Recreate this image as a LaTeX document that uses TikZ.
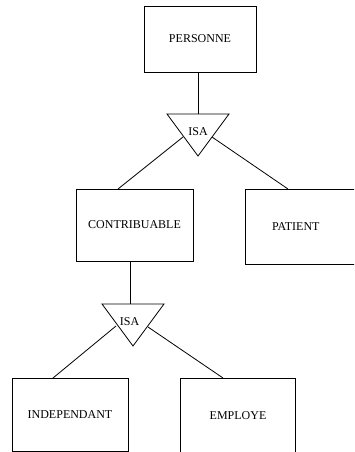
\documentclass[tikz,border=0pt]{standalone}
\usepackage{fontspec}
\setmainfont{Liberation Serif}
\usetikzlibrary{calc}
\begin{document}
\begin{tikzpicture}[x=1pt,y=-1pt,
  line width=0.8pt,
  entity/.style={draw, rectangle, inner sep=0pt, font=\fontsize{12}{14}\selectfont},
  isalabel/.style={inner sep=0pt, font=\fontsize{12}{14}\selectfont},
  link/.style={draw, line width=0.8pt}]
\useasboundingbox (0,0) rectangle (354,452);
\clip (0,0) rectangle (354,452);

% entities
\node[entity, minimum width=112pt, minimum height=66pt] (personne) at (200,39) {PERSONNE};
\node[entity, minimum width=117pt, minimum height=72pt] (contrib) at (134.5,225) {CONTRIBUABLE};
\node[entity, minimum width=115pt, minimum height=75pt, text width=115pt, align=left] (patient) at (302.5,226.5) {\hspace*{27pt}PATIENT};
\node[entity, minimum width=116pt, minimum height=73pt] (indep) at (70,414.5) {INDEPENDANT};
\node[entity, minimum width=115pt, minimum height=90pt] (employe) at (237.5,423) {};
\node[isalabel] (employetxt) at (238,416) {EMPLOYE};

% first ISA triangle
\coordinate (t1l) at (167,114);
\coordinate (t1r) at (229,114);
\coordinate (t1b) at (198,156);
\draw (t1l) -- (t1r) -- (t1b) -- cycle;
\node[isalabel] (isa1) at (198,131.5) {ISA};
\coordinate (t1top) at (198,114);
\coordinate (t1ls) at (183,137);
\coordinate (t1rs) at (212,137);

% second ISA triangle
\coordinate (t2l) at (102,304);
\coordinate (t2r) at (164,304);
\coordinate (t2b) at (133,346);
\draw (t2l) -- (t2r) -- (t2b) -- cycle;
\node[isalabel] (isa2) at (129.5,322) {ISA};
\coordinate (t2top) at (130,304);
\coordinate (t2ls) at (116,326);
\coordinate (t2rs) at (148,327);

% connector ends on the boxes
\coordinate (pbot) at (198,72);
\coordinate (ctop) at (118,189);
\coordinate (cbot) at (130,261);
\coordinate (ptop) at (288,189);
\coordinate (itop) at (53,378);
\coordinate (etop) at (223,378);

% connectors
\draw[link] (pbot) -- (t1top);
\draw[link] (t1ls) -- (ctop);
\draw[link] (t1rs) -- (ptop);
\draw[link] (cbot) -- (t2top);
\draw[link] (t2ls) -- (itop);
\draw[link] (t2rs) -- (etop);
\end{tikzpicture}
\end{document}
